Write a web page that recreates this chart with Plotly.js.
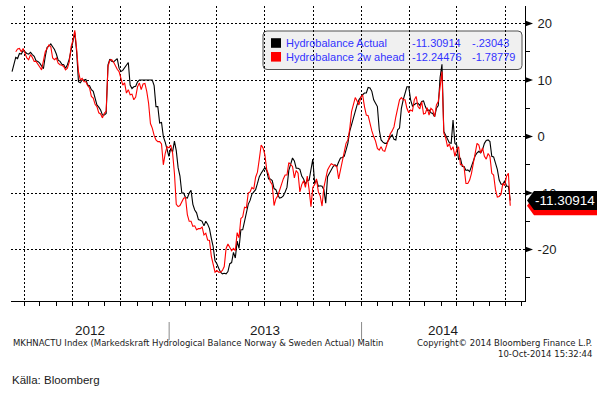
<!DOCTYPE html>
<html><head><meta charset="utf-8">
<script src="https://cdn.plot.ly/plotly-3.0.1.min.js"></script>
<style>html,body{margin:0;padding:0;background:#fff}#chart{width:600px;height:395px}</style>
</head><body><div id="chart"></div>
<script>
// ---- data (half-weekly samples) ----
const startDate = '2012-03-09';
const stepDays = 3.5;
const actual = [
 11.5, 13.0, 14.0, 13.8, 14.7, 14.6, 15.2, 15.0, 14.7, 14.6,
 14.9, 14.5, 14.2, 13.4, 13.3, 13.0, 12.4, 12.0, 14.2, 15.8,
 16.0, 16.4, 15.9, 15.4, 14.6, 13.5, 13.3, 12.8, 12.7, 12.1,
 12.7, 13.7, 15.3, 17.0, 18.4, 15.0, 9.7, 9.5, 10.0, 10.0,
 10.1, 9.1, 9.0, 8.3, 8.0, 6.8, 5.6, 5.2, 4.7, 3.8,
 3.8, 4.1, 12.7, 13.7, 13.3, 13.2, 13.6, 13.8, 12.1, 11.5,
 11.7, 12.1, 12.7, 13.1, 9.1, 8.5, 8.8, 8.9, 9.7, 10.0,
 10.0, 10.0, 9.9, 9.9, 9.9, 10.0, 10.0, 9.0, 5.3, 5.3,
 2.4, 2.5, 0.0, -1.0, -2.5, -3.5, -2.1, -2.7, -0.8, -2.5,
 -5.5, -7.0, -10.0, -10.0, -10.8, -10.9, -10.0, -9.5, -12.0, -13.0,
 -13.5, -14.7, -14.8, -15.0, -15.8, -15.0, -15.5, -16.3, -18.0, -19.5,
 -22.0, -22.5, -23.3, -24.0, -24.3, -24.2, -24.3, -23.9, -22.5, -22.3,
 -20.5, -21.5, -18.5, -19.8, -16.5, -16.5, -15.0, -13.5, -12.0, -11.3,
 -10.2, -9.8, -9.4, -8.3, -7.1, -6.5, -6.0, -5.5, -6.0, -7.5,
 -7.5, -7.8, -9.2, -9.4, -10.3, -10.9, -10.8, -10.5, -9.8, -9.0,
 -6.0, -5.0, -3.8, -4.3, -5.6, -5.6, -5.8, -7.0, -7.5, -8.4,
 -7.8, -7.7, -6.0, -4.0, -8.3, -7.7, -8.8, -8.7, -8.8, -9.4,
 -11.8, -7.1, -6.5, -5.8, -5.3, -5.0, -5.3, -4.5, -3.8, -3.7,
 -3.5, -2.4, -1.2, 0.9, 2.2, 3.5, 4.3, 5.6, 6.5, 7.0,
 7.4, 7.7, 7.7, 8.7, 8.6, 8.0, 6.5, 5.9, 5.3, 1.2,
 -0.6, -1.0, -1.2, -1.2, -0.6, -0.1, 0.3, -0.5, -0.6, 1.2,
 1.5, 5.0, 6.5, 7.6, 8.8, 8.8, 6.5, 5.4, 5.6, 5.9,
 5.9, 5.5, 6.2, 6.3, 5.3, 4.6, 4.7, 4.2, 4.1, 3.5,
 5.0, 5.5, 10.5, 12.8, 0.9, 0.2, -0.6, -1.1, -1.2, 2.9,
 -1.2, -1.5, -4.1, -3.8, -5.3, -5.3, -6.0, -5.9, -6.2, -5.3,
 -4.1, -3.4, -2.9, -2.6, -2.9, -2.3, -1.2, -0.7, -0.6, -0.9,
 -3.5, -3.6, -4.7, -5.8, -7.7, -8.4, -8.5, -7.8, -8.8, -8.8,
 -11.31
];
const ahead = [
 null, null, 15.0, 15.5, 15.6, 15.0, 15.6, 14.8, 13.9, 13.6,
 14.5, 14.0, 13.3, 13.3, 12.7, 12.3, 11.8, 13.8, 15.0, 15.6,
 16.2, 15.9, 13.9, 13.6, 13.9, 13.0, 12.7, 12.6, 12.4, 11.8,
 12.1, 13.2, 15.9, 17.0, 18.8, 15.5, 11.5, 10.0, 10.3, 9.7,
 9.7, 9.0, 8.6, 7.1, 6.8, 5.7, 5.3, 4.2, 4.0, 3.3,
 4.1, 4.5, 12.4, 13.5, 13.6, 13.2, 12.4, 11.9, 11.5, 10.0,
 9.1, 9.5, 7.7, 8.3, 7.4, 7.5, 6.5, 7.0, 8.8, 9.5,
 8.3, 9.3, 9.4, 8.0, 5.9, 2.3, 1.5, 0.2, -0.6, -0.9,
 -0.9, -1.3, -5.0, -3.0, -1.8, -2.0, -1.5, -2.9, -6.5, -12.0,
 -12.4, -12.2, -11.5, -10.9, -10.8, -13.8, -15.0, -15.0, -15.9, -15.8,
 -16.5, -16.3, -16.3, -16.0, -17.4, -17.1, -18.3, -18.4, -21.2, -22.5,
 -24.0, -23.7, -24.0, -24.0, -23.7, -23.0, -19.8, -19.0, -19.5, -20.2,
 -19.8, -20.2, -17.0, -17.9, -14.5, -14.2, -12.5, -12.6, -10.0, -9.8,
 -9.0, -9.3, -7.2, -6.3, -4.0, -1.5, -2.0, -3.2, -5.8, -6.7,
 -8.0, -8.5, -12.2, -11.0, -10.5, -9.4, -8.3, -7.5, -6.8, -6.8,
 -4.6, -4.9, -5.3, -7.3, -6.0, -6.5, -9.8, -8.5, -7.8, -9.0,
 -7.0, -9.4, -12.4, -9.0, -8.5, -7.5, -9.8, -10.5, -12.3, -9.0,
 -7.1, -5.9, -5.3, -4.8, -5.0, -5.2, -5.3, -7.5, -6.0, -4.0,
 -2.4, -1.2, -0.6, 1.3, 4.4, 5.5, 6.9, 6.3, 5.6, 6.9,
 7.4, 5.3, 3.8, 3.7, 2.1, 1.0, 0.0, -0.8, -2.1, -2.4,
 -1.8, -2.5, -2.6, -1.6, -0.9, 0.5, 1.0, 1.7, 3.5, 5.3,
 6.5, 6.9, 6.5, 6.5, 5.0, 4.2, 4.7, 4.5, 6.5, 7.1,
 5.3, 4.9, 6.2, 4.0, 4.1, 5.1, 3.8, 5.0, 4.7, 3.5,
 5.6, 6.2, 9.5, 11.5, 0.6, -0.2, -1.8, -1.3, -2.4, -1.8,
 -3.5, -2.3, -1.8, -5.0, -5.0, -5.5, -8.3, -8.3, -7.7, -6.5,
 -4.7, -2.6, -1.2, -1.5, -2.9, -2.0, -3.5, -4.0, -3.0, -3.5,
 -6.5, -6.8, -9.4, -10.7, -10.6, -10.2, -8.3, -8.7, -7.0, -6.5,
 -12.24
];
const seriesNames = ['Hydrobalance Actual', 'Hydrobalance 2w ahead'];
const lastValues = ['-11.30914', '-12.24476'];
const lastChanges = ['-.23043', '-1.78779'];
const seriesColors = ['#000000', '#ff0000'];
const yTicks = [20, 10, 0, -10, -20];
const yearLabels = ['2012', '2013', '2014'];
const xRange = ['2012-03-07', '2014-11-07'];
const yRange = [-29.1, 23.1];
const footerLeft = 'MKHNACTU Index (Markedskraft Hydrological Balance Norway & Sweden Actual) Maltin';
const footerRight1 = 'Copyright\u00a9 2014 Bloomberg Finance L.P.';
const footerRight2 = '10-Oct-2014 15:32:44';
const sourceText = 'Källa: Bloomberg';

// ---- build ----
const DAY = 86400000;
const t0 = new Date(startDate + 'T00:00:00Z').getTime();
const dates = actual.map((_, i) => new Date(t0 + i * stepDays * DAY).toISOString().slice(0, 19).replace('T', ' '));

const NARROW = '"Liberation Sans Narrow", "Liberation Sans", Arial, sans-serif';
const SANS = '"Liberation Sans", Arial, sans-serif';
const SMALL = '"DejaVu Sans", Verdana, sans-serif';

const M = {l: 11, r: 75, t: 6, b: 94};
const PW = 600 - M.l - M.r, PH = 395 - M.t - M.b;
const px = v => (v - M.l) / PW;
const py = v => (M.t + PH - v) / PH;

const traces = [
  {x: dates, y: actual, type: 'scatter', mode: 'lines', name: seriesNames[0],
   line: {color: seriesColors[0], width: 1.1}},
  {x: dates, y: ahead, type: 'scatter', mode: 'lines', name: seriesNames[1],
   line: {color: seriesColors[1], width: 1.1}}
];

const shapes = [];
const annotations = [];

// legend box (rounded)
function roundRect(x0, y0, x1, y1, r) {
  const rx = r / PW, ry = r / PH;
  const a = px(x0), b = px(x1), top = py(y0), bot = py(y1);
  return `M${a + rx},${top} L${b - rx},${top} Q${b},${top} ${b},${top - ry} L${b},${bot + ry} Q${b},${bot} ${b - rx},${bot} L${a + rx},${bot} Q${a},${bot} ${a},${bot + ry} L${a},${top - ry} Q${a},${top} ${a + rx},${top} Z`;
}
shapes.push({type: 'path', xref: 'paper', yref: 'paper', layer: 'between',
  path: roundRect(263, 31, 522, 69.5, 4), fillcolor: '#f0f0f0', line: {color: '#505050', width: 1}});

const rowY = [43, 56.8];
seriesNames.forEach((nm, k) => {
  shapes.push({type: 'rect', xref: 'paper', yref: 'paper', layer: 'between',
    x0: px(271), x1: px(281), y0: py(rowY[k] - 4.8), y1: py(rowY[k] + 4.8),
    fillcolor: seriesColors[k], line: {width: 0}});
  const f = {family: SANS, size: 11, color: '#3333ff'};
  [[nm, 285], [lastValues[k], 411], [lastChanges[k], 471]].forEach(([txt, xp]) => {
    annotations.push({xref: 'paper', yref: 'paper', x: px(xp), y: py(rowY[k]), xanchor: 'left',
      yanchor: 'middle', text: txt, showarrow: false, font: f, borderpad: 0});
  });
});

// right-axis tick triangles
yTicks.forEach(v => {
  shapes.push({type: 'path', xref: 'paper', yref: 'y', xsizemode: 'pixel', ysizemode: 'pixel',
    xanchor: 1, yanchor: v, path: 'M0,-3 L8,0 L0,3 Z', fillcolor: '#000', line: {width: 0}});
});

// last value labels: red one (mostly hidden) behind the black one
const redVal = parseFloat(lastValues[1]);
shapes.push({type: 'path', xref: 'paper', yref: 'y', xsizemode: 'pixel', ysizemode: 'pixel',
  xanchor: 1, yanchor: redVal, path: 'M2,0 L9,9.5 L72,9.5 L72,-9.5 L9,-9.5 Z',
  fillcolor: seriesColors[1], line: {width: 0}});
const blkVal = parseFloat(lastValues[0]);
shapes.push({type: 'path', xref: 'paper', yref: 'y', xsizemode: 'pixel', ysizemode: 'pixel',
  xanchor: 1, yanchor: blkVal, path: 'M2,0 L9,9.5 L72,9.5 L72,-9.5 L9,-9.5 Z',
  fillcolor: seriesColors[0], line: {width: 0}});
annotations.push({xref: 'paper', yref: 'y', x: 1, y: blkVal, xanchor: 'left', yanchor: 'middle',
  xshift: 9, text: lastValues[0], showarrow: false, borderpad: 0,
  font: {family: NARROW, size: 13.5, color: '#ffffff'}});

// year labels and separators
const r0 = new Date(xRange[0] + 'T00:00:00Z').getTime(), r1 = new Date(xRange[1] + 'T00:00:00Z').getTime();
yearLabels.forEach((yr, k) => {
  const ys = new Date(yr + '-01-01T00:00:00Z').getTime();
  const ye = new Date((+yr + 1) + '-01-01T00:00:00Z').getTime();
  const mid = (Math.max(ys, r0) + Math.min(ye, r1)) / 2;
  annotations.push({xref: 'x', yref: 'paper', x: new Date(mid).toISOString().slice(0, 10), y: py(330),
    yanchor: 'middle', text: yr, showarrow: false, font: {family: NARROW, size: 13.5, color: '#1a1a1a'}});
  if (k > 0) {
    shapes.push({type: 'line', xref: 'x', yref: 'paper', x0: yr + '-01-01', x1: yr + '-01-01',
      y0: py(322), y1: py(340), line: {color: '#8a8a8a', width: 1}});
  }
});

// footer texts
annotations.push({xref: 'paper', yref: 'paper', x: px(11), y: py(343), xanchor: 'left', yanchor: 'middle',
  text: footerLeft, showarrow: false, font: {family: SMALL, size: 8.5, color: '#1a1a1a'}});
annotations.push({xref: 'paper', yref: 'paper', x: px(594), y: py(343), xanchor: 'right', yanchor: 'middle',
  text: footerRight1, showarrow: false, font: {family: SMALL, size: 8.5, color: '#1a1a1a'}});
annotations.push({xref: 'paper', yref: 'paper', x: px(594), y: py(354), xanchor: 'right', yanchor: 'middle',
  text: footerRight2, showarrow: false, font: {family: SMALL, size: 8.5, color: '#1a1a1a'}});
annotations.push({xref: 'paper', yref: 'paper', x: px(10), y: py(380), xanchor: 'left', yanchor: 'middle',
  text: sourceText, showarrow: false, font: {family: NARROW, size: 11.5, color: '#1a1a1a'}});

const layout = {
  width: 600, height: 395, margin: M,
  paper_bgcolor: '#ffffff', plot_bgcolor: '#ffffff', showlegend: false,
  xaxis: {type: 'date', range: xRange, tick0: '2012-01-01', dtick: 'M3',
    showgrid: true, gridcolor: '#000', gridwidth: 1, griddash: '2px,2px',
    ticks: 'outside', ticklen: 4, tickcolor: '#000', showticklabels: false,
    showline: true, linecolor: '#000', linewidth: 1, zeroline: false,
    minor: {dtick: 'M1', tick0: '2012-01-01', ticks: 'outside', ticklen: 4, tickcolor: '#000', showgrid: false}},
  yaxis: {side: 'right', range: yRange, tickvals: yTicks, ticktext: yTicks.map(String),
    showgrid: true, gridcolor: '#000', gridwidth: 1, griddash: '2px,2px', zeroline: false,
    ticks: '', ticklabelstandoff: 9, showline: true, linecolor: '#000', linewidth: 1,
    tickfont: {family: NARROW, size: 13, color: '#1a1a1a'},
    minor: {dtick: 5, tick0: 0, ticks: 'outside', ticklen: 4, tickcolor: '#000', showgrid: false}},
  shapes: shapes, annotations: annotations
};

Plotly.newPlot('chart', traces, layout, {staticPlot: true, displayModeBar: false});
</script>
</body></html>
